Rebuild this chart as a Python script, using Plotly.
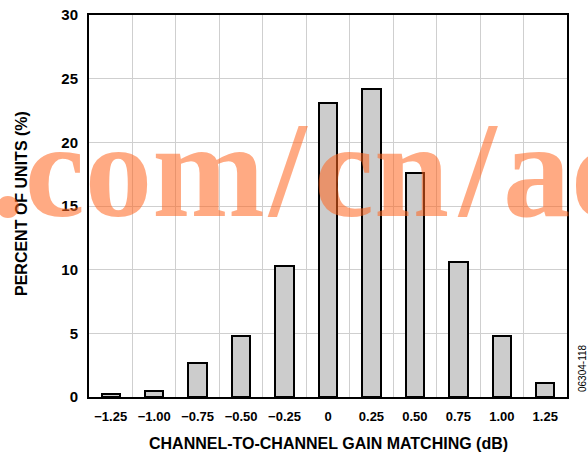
import plotly.graph_objects as go

# Data
gain_db = [-1.25, -1.00, -0.75, -0.50, -0.25, 0.0, 0.25, 0.50, 0.75, 1.00, 1.25]
tick_labels = ["\u22121.25", "\u22121.00", "\u22120.75", "\u22120.50", "\u22120.25",
               "0", "0.25", "0.50", "0.75", "1.00", "1.25"]
percent_units = [0.2, 0.5, 2.7, 4.8, 10.3, 23.1, 24.2, 17.6, 10.6, 4.8, 1.1]
y_ticks = [0, 5, 10, 15, 20, 25, 30]
watermark_parts = [".com", "/", "cn", "/", "ad"]

FONT = "Liberation Sans, Arial, Helvetica, sans-serif"
GRID = "#cfcfcf"
L, T, W, H = 89, 15, 478, 382  # plot area in pixels


def px_x(p):
    return (p - L) / W


def px_y(p):
    return (T + H - p) / H


fig = go.Figure()
fig.add_trace(go.Bar(
    x=gain_db, y=percent_units, width=0.106,
    marker=dict(color="#cccccc", line=dict(color="black", width=2)),
    showlegend=False, hoverinfo="x+y",
))

wm_centers = [128, 287, 381, 477, 574]
wm_annots = [
    dict(text=t, xref="paper", yref="paper", x=px_x(cx), y=0.592,
         xanchor="center", yanchor="middle", showarrow=False,
         font=dict(family="Liberation Serif, serif", size=135,
                   color="rgba(255,100,30,0.55)", weight="bold"))
    for t, cx in zip(watermark_parts, wm_centers)
]

fig.update_layout(
    width=588, height=455,
    margin=dict(l=L, r=588 - L - W, t=T, b=455 - T - H, autoexpand=False),
    paper_bgcolor="white", plot_bgcolor="white",
    bargap=0,
    xaxis=dict(
        range=[-1.375, 1.375], tickmode="array", tickvals=gain_db, ticktext=tick_labels,
        showgrid=False, zeroline=False, ticks="",
        showline=True, mirror=True, linecolor="black", linewidth=2,
        tickfont=dict(family=FONT, size=13, color="black", weight="bold"),
        ticklabelstandoff=6,
        minor=dict(tickmode="linear", tick0=-1.375, dtick=0.25, showgrid=True,
                   gridcolor=GRID, gridwidth=1, ticks=""),
    ),
    yaxis=dict(
        range=[0, 30], tickmode="array", tickvals=y_ticks,
        showgrid=True, gridcolor=GRID, gridwidth=1, zeroline=False, ticks="",
        showline=True, mirror=True, linecolor="black", linewidth=2,
        tickfont=dict(family=FONT, size=15, color="black", weight="bold"),
        ticklabelstandoff=6,
    ),
    annotations=[
        dict(text="CHANNEL-TO-CHANNEL GAIN MATCHING (dB)", xref="paper", yref="paper",
             x=px_x(328), y=px_y(443), xanchor="center", yanchor="middle", showarrow=False,
             font=dict(family=FONT, size=16, color="black", weight="bold")),
        dict(text="PERCENT OF UNITS (%)", xref="paper", yref="paper",
             x=px_x(21), y=px_y(204), xanchor="center", yanchor="middle", showarrow=False,
             textangle=-90,
             font=dict(family=FONT, size=16, color="black", weight="bold")),
        dict(text="06304-118", xref="paper", yref="paper",
             x=px_x(582), y=px_y(368), xanchor="center", yanchor="middle",
             showarrow=False, textangle=-90,
             font=dict(family=FONT, size=10, color="black")),
    ] + wm_annots,
)

fig.write_html("out.html", config={"displayModeBar": False},
               post_script="document.body.style.margin='0px';")
